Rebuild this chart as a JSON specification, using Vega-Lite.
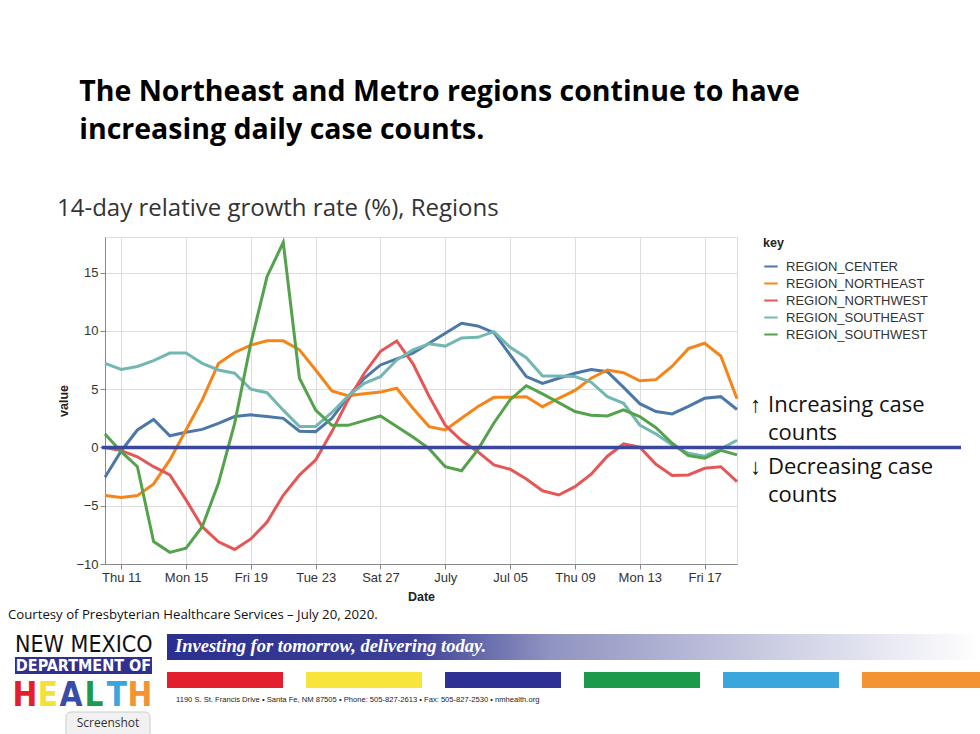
{
  "$schema": "https://vega.github.io/schema/vega-lite/v6.json",
  "width": 632,
  "height": 327,
  "autosize": {"type": "none"},
  "padding": {"left": 105, "top": 237, "right": 243, "bottom": 170},
  "background": "white",
  "title": {
    "text": ["\u200b\u00a0\u00a0\u00a0The Northeast and Metro regions continue to have", "\u200b\u00a0\u00a0\u00a0increasing daily case counts."],
    "subtitle": "14-day relative growth rate (%), Regions",
    "anchor": "start",
    "frame": "group",
    "dx": -48,
    "font": "Open Sans",
    "fontSize": 28.5,
    "fontWeight": "bold",
    "color": "#000000",
    "lineHeight": 37.5,
    "subtitleFont": "Open Sans",
    "subtitleFontSize": 24,
    "subtitleColor": "#333333",
    "subtitlePadding": 53,
    "offset": 15
  },
  "data": {"values": [
    {"date":"2020/06/10","key":"REGION_CENTER","value":-2.56},
    {"date":"2020/06/11","key":"REGION_CENTER","value":-0.3},
    {"date":"2020/06/12","key":"REGION_CENTER","value":1.5},
    {"date":"2020/06/13","key":"REGION_CENTER","value":2.4},
    {"date":"2020/06/14","key":"REGION_CENTER","value":1.0},
    {"date":"2020/06/15","key":"REGION_CENTER","value":1.3},
    {"date":"2020/06/16","key":"REGION_CENTER","value":1.55},
    {"date":"2020/06/17","key":"REGION_CENTER","value":2.07},
    {"date":"2020/06/18","key":"REGION_CENTER","value":2.65},
    {"date":"2020/06/19","key":"REGION_CENTER","value":2.8},
    {"date":"2020/06/20","key":"REGION_CENTER","value":2.65},
    {"date":"2020/06/21","key":"REGION_CENTER","value":2.5},
    {"date":"2020/06/22","key":"REGION_CENTER","value":1.4},
    {"date":"2020/06/23","key":"REGION_CENTER","value":1.36},
    {"date":"2020/06/24","key":"REGION_CENTER","value":2.5},
    {"date":"2020/06/25","key":"REGION_CENTER","value":4.36},
    {"date":"2020/06/26","key":"REGION_CENTER","value":5.94},
    {"date":"2020/06/27","key":"REGION_CENTER","value":7.08},
    {"date":"2020/06/28","key":"REGION_CENTER","value":7.6},
    {"date":"2020/06/29","key":"REGION_CENTER","value":8.1},
    {"date":"2020/06/30","key":"REGION_CENTER","value":8.94},
    {"date":"2020/07/01","key":"REGION_CENTER","value":9.8},
    {"date":"2020/07/02","key":"REGION_CENTER","value":10.66},
    {"date":"2020/07/03","key":"REGION_CENTER","value":10.43},
    {"date":"2020/07/04","key":"REGION_CENTER","value":9.85},
    {"date":"2020/07/05","key":"REGION_CENTER","value":7.94},
    {"date":"2020/07/06","key":"REGION_CENTER","value":6.08},
    {"date":"2020/07/07","key":"REGION_CENTER","value":5.5},
    {"date":"2020/07/08","key":"REGION_CENTER","value":5.94},
    {"date":"2020/07/09","key":"REGION_CENTER","value":6.37},
    {"date":"2020/07/10","key":"REGION_CENTER","value":6.68},
    {"date":"2020/07/11","key":"REGION_CENTER","value":6.5},
    {"date":"2020/07/12","key":"REGION_CENTER","value":5.15},
    {"date":"2020/07/13","key":"REGION_CENTER","value":3.76},
    {"date":"2020/07/14","key":"REGION_CENTER","value":3.08},
    {"date":"2020/07/15","key":"REGION_CENTER","value":2.88},
    {"date":"2020/07/16","key":"REGION_CENTER","value":3.53},
    {"date":"2020/07/17","key":"REGION_CENTER","value":4.22},
    {"date":"2020/07/18","key":"REGION_CENTER","value":4.36},
    {"date":"2020/07/19","key":"REGION_CENTER","value":3.26},
    {"date":"2020/06/10","key":"REGION_NORTHEAST","value":-4.13},
    {"date":"2020/06/11","key":"REGION_NORTHEAST","value":-4.3},
    {"date":"2020/06/12","key":"REGION_NORTHEAST","value":-4.13},
    {"date":"2020/06/13","key":"REGION_NORTHEAST","value":-3.13},
    {"date":"2020/06/14","key":"REGION_NORTHEAST","value":-1.07},
    {"date":"2020/06/15","key":"REGION_NORTHEAST","value":1.5},
    {"date":"2020/06/16","key":"REGION_NORTHEAST","value":4.08},
    {"date":"2020/06/17","key":"REGION_NORTHEAST","value":7.2},
    {"date":"2020/06/18","key":"REGION_NORTHEAST","value":8.15},
    {"date":"2020/06/19","key":"REGION_NORTHEAST","value":8.78},
    {"date":"2020/06/20","key":"REGION_NORTHEAST","value":9.15},
    {"date":"2020/06/21","key":"REGION_NORTHEAST","value":9.15},
    {"date":"2020/06/22","key":"REGION_NORTHEAST","value":8.38},
    {"date":"2020/06/23","key":"REGION_NORTHEAST","value":6.65},
    {"date":"2020/06/24","key":"REGION_NORTHEAST","value":4.85},
    {"date":"2020/06/25","key":"REGION_NORTHEAST","value":4.45},
    {"date":"2020/06/26","key":"REGION_NORTHEAST","value":4.6},
    {"date":"2020/06/27","key":"REGION_NORTHEAST","value":4.75},
    {"date":"2020/06/28","key":"REGION_NORTHEAST","value":5.08},
    {"date":"2020/06/29","key":"REGION_NORTHEAST","value":3.36},
    {"date":"2020/06/30","key":"REGION_NORTHEAST","value":1.79},
    {"date":"2020/07/01","key":"REGION_NORTHEAST","value":1.5},
    {"date":"2020/07/02","key":"REGION_NORTHEAST","value":2.5},
    {"date":"2020/07/03","key":"REGION_NORTHEAST","value":3.5},
    {"date":"2020/07/04","key":"REGION_NORTHEAST","value":4.3},
    {"date":"2020/07/05","key":"REGION_NORTHEAST","value":4.3},
    {"date":"2020/07/06","key":"REGION_NORTHEAST","value":4.36},
    {"date":"2020/07/07","key":"REGION_NORTHEAST","value":3.5},
    {"date":"2020/07/08","key":"REGION_NORTHEAST","value":4.22},
    {"date":"2020/07/09","key":"REGION_NORTHEAST","value":4.9},
    {"date":"2020/07/10","key":"REGION_NORTHEAST","value":5.94},
    {"date":"2020/07/11","key":"REGION_NORTHEAST","value":6.65},
    {"date":"2020/07/12","key":"REGION_NORTHEAST","value":6.42},
    {"date":"2020/07/13","key":"REGION_NORTHEAST","value":5.72},
    {"date":"2020/07/14","key":"REGION_NORTHEAST","value":5.82},
    {"date":"2020/07/15","key":"REGION_NORTHEAST","value":6.97},
    {"date":"2020/07/16","key":"REGION_NORTHEAST","value":8.48},
    {"date":"2020/07/17","key":"REGION_NORTHEAST","value":8.94},
    {"date":"2020/07/18","key":"REGION_NORTHEAST","value":7.85},
    {"date":"2020/07/19","key":"REGION_NORTHEAST","value":4.18},
    {"date":"2020/06/10","key":"REGION_NORTHWEST","value":0.0},
    {"date":"2020/06/11","key":"REGION_NORTHWEST","value":-0.27},
    {"date":"2020/06/12","key":"REGION_NORTHWEST","value":-0.8},
    {"date":"2020/06/13","key":"REGION_NORTHWEST","value":-1.65},
    {"date":"2020/06/14","key":"REGION_NORTHWEST","value":-2.36},
    {"date":"2020/06/15","key":"REGION_NORTHWEST","value":-4.5},
    {"date":"2020/06/16","key":"REGION_NORTHWEST","value":-6.8},
    {"date":"2020/06/17","key":"REGION_NORTHWEST","value":-8.1},
    {"date":"2020/06/18","key":"REGION_NORTHWEST","value":-8.75},
    {"date":"2020/06/19","key":"REGION_NORTHWEST","value":-7.85},
    {"date":"2020/06/20","key":"REGION_NORTHWEST","value":-6.4},
    {"date":"2020/06/21","key":"REGION_NORTHWEST","value":-4.1},
    {"date":"2020/06/22","key":"REGION_NORTHWEST","value":-2.36},
    {"date":"2020/06/23","key":"REGION_NORTHWEST","value":-1.07},
    {"date":"2020/06/24","key":"REGION_NORTHWEST","value":1.36},
    {"date":"2020/06/25","key":"REGION_NORTHWEST","value":4.08},
    {"date":"2020/06/26","key":"REGION_NORTHWEST","value":6.37},
    {"date":"2020/06/27","key":"REGION_NORTHWEST","value":8.25},
    {"date":"2020/06/28","key":"REGION_NORTHWEST","value":9.14},
    {"date":"2020/06/29","key":"REGION_NORTHWEST","value":7.2},
    {"date":"2020/06/30","key":"REGION_NORTHWEST","value":4.4},
    {"date":"2020/07/01","key":"REGION_NORTHWEST","value":1.9},
    {"date":"2020/07/02","key":"REGION_NORTHWEST","value":0.6},
    {"date":"2020/07/03","key":"REGION_NORTHWEST","value":-0.36},
    {"date":"2020/07/04","key":"REGION_NORTHWEST","value":-1.5},
    {"date":"2020/07/05","key":"REGION_NORTHWEST","value":-1.87},
    {"date":"2020/07/06","key":"REGION_NORTHWEST","value":-2.7},
    {"date":"2020/07/07","key":"REGION_NORTHWEST","value":-3.72},
    {"date":"2020/07/08","key":"REGION_NORTHWEST","value":-4.08},
    {"date":"2020/07/09","key":"REGION_NORTHWEST","value":-3.36},
    {"date":"2020/07/10","key":"REGION_NORTHWEST","value":-2.3},
    {"date":"2020/07/11","key":"REGION_NORTHWEST","value":-0.75},
    {"date":"2020/07/12","key":"REGION_NORTHWEST","value":0.3},
    {"date":"2020/07/13","key":"REGION_NORTHWEST","value":0.03},
    {"date":"2020/07/14","key":"REGION_NORTHWEST","value":-1.45},
    {"date":"2020/07/15","key":"REGION_NORTHWEST","value":-2.4},
    {"date":"2020/07/16","key":"REGION_NORTHWEST","value":-2.36},
    {"date":"2020/07/17","key":"REGION_NORTHWEST","value":-1.79},
    {"date":"2020/07/18","key":"REGION_NORTHWEST","value":-1.65},
    {"date":"2020/07/19","key":"REGION_NORTHWEST","value":-2.93},
    {"date":"2020/06/10","key":"REGION_SOUTHEAST","value":7.22},
    {"date":"2020/06/11","key":"REGION_SOUTHEAST","value":6.7},
    {"date":"2020/06/12","key":"REGION_SOUTHEAST","value":6.95},
    {"date":"2020/06/13","key":"REGION_SOUTHEAST","value":7.45},
    {"date":"2020/06/14","key":"REGION_SOUTHEAST","value":8.1},
    {"date":"2020/06/15","key":"REGION_SOUTHEAST","value":8.1},
    {"date":"2020/06/16","key":"REGION_SOUTHEAST","value":7.22},
    {"date":"2020/06/17","key":"REGION_SOUTHEAST","value":6.65},
    {"date":"2020/06/18","key":"REGION_SOUTHEAST","value":6.37},
    {"date":"2020/06/19","key":"REGION_SOUTHEAST","value":5.0},
    {"date":"2020/06/20","key":"REGION_SOUTHEAST","value":4.7},
    {"date":"2020/06/21","key":"REGION_SOUTHEAST","value":3.2},
    {"date":"2020/06/22","key":"REGION_SOUTHEAST","value":1.8},
    {"date":"2020/06/23","key":"REGION_SOUTHEAST","value":1.8},
    {"date":"2020/06/24","key":"REGION_SOUTHEAST","value":3.0},
    {"date":"2020/06/25","key":"REGION_SOUTHEAST","value":4.4},
    {"date":"2020/06/26","key":"REGION_SOUTHEAST","value":5.5},
    {"date":"2020/06/27","key":"REGION_SOUTHEAST","value":6.08},
    {"date":"2020/06/28","key":"REGION_SOUTHEAST","value":7.5},
    {"date":"2020/06/29","key":"REGION_SOUTHEAST","value":8.37},
    {"date":"2020/06/30","key":"REGION_SOUTHEAST","value":8.9},
    {"date":"2020/07/01","key":"REGION_SOUTHEAST","value":8.7},
    {"date":"2020/07/02","key":"REGION_SOUTHEAST","value":9.4},
    {"date":"2020/07/03","key":"REGION_SOUTHEAST","value":9.45},
    {"date":"2020/07/04","key":"REGION_SOUTHEAST","value":9.94},
    {"date":"2020/07/05","key":"REGION_SOUTHEAST","value":8.6},
    {"date":"2020/07/06","key":"REGION_SOUTHEAST","value":7.7},
    {"date":"2020/07/07","key":"REGION_SOUTHEAST","value":6.14},
    {"date":"2020/07/08","key":"REGION_SOUTHEAST","value":6.14},
    {"date":"2020/07/09","key":"REGION_SOUTHEAST","value":6.08},
    {"date":"2020/07/10","key":"REGION_SOUTHEAST","value":5.6},
    {"date":"2020/07/11","key":"REGION_SOUTHEAST","value":4.36},
    {"date":"2020/07/12","key":"REGION_SOUTHEAST","value":3.79},
    {"date":"2020/07/13","key":"REGION_SOUTHEAST","value":1.93},
    {"date":"2020/07/14","key":"REGION_SOUTHEAST","value":1.16},
    {"date":"2020/07/15","key":"REGION_SOUTHEAST","value":0.21},
    {"date":"2020/07/16","key":"REGION_SOUTHEAST","value":-0.5},
    {"date":"2020/07/17","key":"REGION_SOUTHEAST","value":-0.75},
    {"date":"2020/07/18","key":"REGION_SOUTHEAST","value":-0.12},
    {"date":"2020/07/19","key":"REGION_SOUTHEAST","value":0.62},
    {"date":"2020/06/10","key":"REGION_SOUTHWEST","value":1.16},
    {"date":"2020/06/11","key":"REGION_SOUTHWEST","value":-0.36},
    {"date":"2020/06/12","key":"REGION_SOUTHWEST","value":-1.65},
    {"date":"2020/06/13","key":"REGION_SOUTHWEST","value":-8.08},
    {"date":"2020/06/14","key":"REGION_SOUTHWEST","value":-9.0},
    {"date":"2020/06/15","key":"REGION_SOUTHWEST","value":-8.65},
    {"date":"2020/06/16","key":"REGION_SOUTHWEST","value":-6.8},
    {"date":"2020/06/17","key":"REGION_SOUTHWEST","value":-3.07},
    {"date":"2020/06/18","key":"REGION_SOUTHWEST","value":2.07},
    {"date":"2020/06/19","key":"REGION_SOUTHWEST","value":8.94},
    {"date":"2020/06/20","key":"REGION_SOUTHWEST","value":14.66},
    {"date":"2020/06/21","key":"REGION_SOUTHWEST","value":17.6},
    {"date":"2020/06/22","key":"REGION_SOUTHWEST","value":5.94},
    {"date":"2020/06/23","key":"REGION_SOUTHWEST","value":3.2},
    {"date":"2020/06/24","key":"REGION_SOUTHWEST","value":1.9},
    {"date":"2020/06/25","key":"REGION_SOUTHWEST","value":1.9},
    {"date":"2020/06/26","key":"REGION_SOUTHWEST","value":2.3},
    {"date":"2020/06/27","key":"REGION_SOUTHWEST","value":2.7},
    {"date":"2020/06/28","key":"REGION_SOUTHWEST","value":1.8},
    {"date":"2020/06/29","key":"REGION_SOUTHWEST","value":0.9},
    {"date":"2020/06/30","key":"REGION_SOUTHWEST","value":-0.1},
    {"date":"2020/07/01","key":"REGION_SOUTHWEST","value":-1.65},
    {"date":"2020/07/02","key":"REGION_SOUTHWEST","value":-2.0},
    {"date":"2020/07/03","key":"REGION_SOUTHWEST","value":-0.2},
    {"date":"2020/07/04","key":"REGION_SOUTHWEST","value":2.1},
    {"date":"2020/07/05","key":"REGION_SOUTHWEST","value":4.1},
    {"date":"2020/07/06","key":"REGION_SOUTHWEST","value":5.3},
    {"date":"2020/07/07","key":"REGION_SOUTHWEST","value":4.6},
    {"date":"2020/07/08","key":"REGION_SOUTHWEST","value":3.85},
    {"date":"2020/07/09","key":"REGION_SOUTHWEST","value":3.08},
    {"date":"2020/07/10","key":"REGION_SOUTHWEST","value":2.76},
    {"date":"2020/07/11","key":"REGION_SOUTHWEST","value":2.7},
    {"date":"2020/07/12","key":"REGION_SOUTHWEST","value":3.22},
    {"date":"2020/07/13","key":"REGION_SOUTHWEST","value":2.65},
    {"date":"2020/07/14","key":"REGION_SOUTHWEST","value":1.7},
    {"date":"2020/07/15","key":"REGION_SOUTHWEST","value":0.36},
    {"date":"2020/07/16","key":"REGION_SOUTHWEST","value":-0.7},
    {"date":"2020/07/17","key":"REGION_SOUTHWEST","value":-0.93},
    {"date":"2020/07/18","key":"REGION_SOUTHWEST","value":-0.25},
    {"date":"2020/07/19","key":"REGION_SOUTHWEST","value":-0.64}
  ]},
  "layer": [
    {
      "mark": {"type": "line", "strokeWidth": 3},
      "encoding": {
        "x": {
          "field": "date", "type": "temporal", "title": "Date",
          "scale": {"domain": [{"year": 2020, "month": 6, "date": 10}, {"year": 2020, "month": 7, "date": 19}], "nice": false},
          "axis": {
            "values": [
              {"year": 2020, "month": 6, "date": 11}, {"year": 2020, "month": 6, "date": 13},
              {"year": 2020, "month": 6, "date": 15}, {"year": 2020, "month": 6, "date": 17},
              {"year": 2020, "month": 6, "date": 19}, {"year": 2020, "month": 6, "date": 21},
              {"year": 2020, "month": 6, "date": 23}, {"year": 2020, "month": 6, "date": 25},
              {"year": 2020, "month": 6, "date": 27}, {"year": 2020, "month": 6, "date": 29},
              {"year": 2020, "month": 7, "date": 1}, {"year": 2020, "month": 7, "date": 3},
              {"year": 2020, "month": 7, "date": 5}, {"year": 2020, "month": 7, "date": 7},
              {"year": 2020, "month": 7, "date": 9}, {"year": 2020, "month": 7, "date": 11},
              {"year": 2020, "month": 7, "date": 13}, {"year": 2020, "month": 7, "date": 15},
              {"year": 2020, "month": 7, "date": 17}, {"year": 2020, "month": 7, "date": 19}
            ],
            "labelExpr": "(round((datum.value - datetime(2020,5,11)) / 86400000) % 4 == 0) ? (date(datum.value) == 1 ? timeFormat(datum.value, '%B') : (day(datum.value) == 0 ? timeFormat(datum.value, '%b %d') : timeFormat(datum.value, '%a %d'))) : ''",
            "labelOverlap": false,
            "titlePadding": 6
          }
        },
        "y": {
          "field": "value", "type": "quantitative", "title": "value",
          "scale": {"domain": [-10, 18.06], "nice": false, "zero": false},
          "axis": {"values": [-10, -5, 0, 5, 10, 15], "titlePadding": 5}
        },
        "color": {"field": "key", "type": "nominal", "title": "key"}
      }
    },
    {
      "data": {"values": [{}]},
      "mark": {"type": "rule", "color": "#3A479C", "strokeWidth": 3.5},
      "encoding": {
        "x": {"datum": {"year": 2020, "month": 6, "date": 9, "hours": 19, "minutes": 7}, "type": "temporal"},
        "x2": {"datum": {"year": 2020, "month": 8, "date": 1, "hours": 19, "minutes": 45}},
        "y": {"datum": 0, "type": "quantitative"}
      }
    },
    {
      "data": {"values": [{}]},
      "mark": {"type": "text", "text": "↑", "align": "left", "baseline": "alphabetic", "font": "Open Sans", "fontSize": 22, "color": "#111111"},
      "encoding": {
        "x": {"datum": {"year": 2020, "month": 7, "date": 19, "hours": 19, "minutes": 15}, "type": "temporal"},
        "y": {"datum": 3.04, "type": "quantitative"}
      }
    },
    {
      "data": {"values": [{}]},
      "mark": {"type": "text", "text": "↓", "align": "left", "baseline": "alphabetic", "font": "Open Sans", "fontSize": 22, "color": "#111111"},
      "encoding": {
        "x": {"datum": {"year": 2020, "month": 7, "date": 19, "hours": 19, "minutes": 15}, "type": "temporal"},
        "y": {"datum": -2.28, "type": "quantitative"}
      }
    },
    {
      "data": {"values": [{}]},
      "mark": {"type": "text", "text": "Increasing case\ncounts", "lineBreak": "\n", "lineHeight": 28, "align": "left", "baseline": "alphabetic", "font": "Open Sans", "fontSize": 22, "color": "#111111"},
      "encoding": {
        "x": {"datum": {"year": 2020, "month": 7, "date": 20, "hours": 21, "minutes": 55}, "type": "temporal"},
        "y": {"datum": 3.04, "type": "quantitative"}
      }
    },
    {
      "data": {"values": [{}]},
      "mark": {"type": "text", "text": "Decreasing case\ncounts", "lineBreak": "\n", "lineHeight": 28, "align": "left", "baseline": "alphabetic", "font": "Open Sans", "fontSize": 22, "color": "#111111"},
      "encoding": {
        "x": {"datum": {"year": 2020, "month": 7, "date": 20, "hours": 21, "minutes": 55}, "type": "temporal"},
        "y": {"datum": -2.28, "type": "quantitative"}
      }
    },
    {
      "data": {"values": [{}]},
      "mark": {"type": "text", "text": "Courtesy of Presbyterian Healthcare Services – July 20, 2020.", "align": "left", "baseline": "alphabetic", "font": "Open Sans", "fontSize": 13.2, "color": "#111111"},
      "encoding": {
        "x": {"datum": {"year": 2020, "month": 6, "date": 4, "hours": 0, "minutes": 20}, "type": "temporal"},
        "y": {"datum": -14.72, "type": "quantitative"}
      }
    },
    {
      "data": {"values": [{}]},
      "mark": {"type": "text", "text": "NEW MEXICO", "align": "left", "baseline": "alphabetic", "font": "Liberation Sans Narrow, DejaVu Sans Condensed, Liberation Sans", "fontSize": 23, "color": "#111111"},
      "encoding": {
        "x": {"datum": {"year": 2020, "month": 6, "date": 4, "hours": 10, "minutes": 42}, "type": "temporal"},
        "y": {"datum": -17.55, "type": "quantitative"}
      }
    },
    {
      "data": {"values": [{}]},
      "mark": {"type": "rect", "color": "#2E3192"},
      "encoding": {
        "x": {"datum": {"year": 2020, "month": 6, "date": 4, "hours": 10, "minutes": 42}, "type": "temporal"},
        "x2": {"datum": {"year": 2020, "month": 6, "date": 12, "hours": 21, "minutes": 36}},
        "y": {"datum": -17.98, "type": "quantitative"},
        "y2": {"datum": -19.44}
      }
    },
    {
      "data": {"values": [{}]},
      "mark": {"type": "text", "text": "DEPARTMENT OF", "align": "center", "baseline": "alphabetic", "font": "Liberation Sans Narrow, DejaVu Sans Condensed, Liberation Sans", "fontWeight": "bold", "fontSize": 16, "color": "#ffffff"},
      "encoding": {
        "x": {"datum": {"year": 2020, "month": 6, "date": 8, "hours": 16, "minutes": 10}, "type": "temporal"},
        "y": {"datum": -19.18, "type": "quantitative"}
      }
    },
    {
      "data": {"values": [{}]},
      "mark": {"type": "text", "text": "H", "align": "center", "baseline": "alphabetic", "font": "Liberation Sans Narrow, DejaVu Sans Condensed, Liberation Sans", "fontWeight": "bold", "fontSize": 33, "color": "#E31E2D"},
      "encoding": {
        "x": {"datum": {"year": 2020, "month": 6, "date": 5, "hours": 1, "minutes": 30}, "type": "temporal"},
        "y": {"datum": -22.2, "type": "quantitative"}
      }
    },
    {
      "data": {"values": [{}]},
      "mark": {"type": "text", "text": "E", "align": "center", "baseline": "alphabetic", "font": "Liberation Sans Narrow, DejaVu Sans Condensed, Liberation Sans", "fontWeight": "bold", "fontSize": 33, "color": "#F5E03A"},
      "encoding": {
        "x": {"datum": {"year": 2020, "month": 6, "date": 6, "hours": 11, "minutes": 35}, "type": "temporal"},
        "y": {"datum": -22.2, "type": "quantitative"}
      }
    },
    {
      "data": {"values": [{}]},
      "mark": {"type": "text", "text": "A", "align": "center", "baseline": "alphabetic", "font": "Liberation Sans Narrow, DejaVu Sans Condensed, Liberation Sans", "fontWeight": "bold", "fontSize": 33, "color": "#3B4BA8"},
      "encoding": {
        "x": {"datum": {"year": 2020, "month": 6, "date": 7, "hours": 21, "minutes": 39}, "type": "temporal"},
        "y": {"datum": -22.2, "type": "quantitative"}
      }
    },
    {
      "data": {"values": [{}]},
      "mark": {"type": "text", "text": "L", "align": "center", "baseline": "alphabetic", "font": "Liberation Sans Narrow, DejaVu Sans Condensed, Liberation Sans", "fontWeight": "bold", "fontSize": 33, "color": "#1E9A4B"},
      "encoding": {
        "x": {"datum": {"year": 2020, "month": 6, "date": 9, "hours": 7, "minutes": 42}, "type": "temporal"},
        "y": {"datum": -22.2, "type": "quantitative"}
      }
    },
    {
      "data": {"values": [{}]},
      "mark": {"type": "text", "text": "T", "align": "center", "baseline": "alphabetic", "font": "Liberation Sans Narrow, DejaVu Sans Condensed, Liberation Sans", "fontWeight": "bold", "fontSize": 33, "color": "#39A6DC"},
      "encoding": {
        "x": {"datum": {"year": 2020, "month": 6, "date": 10, "hours": 17, "minutes": 46}, "type": "temporal"},
        "y": {"datum": -22.2, "type": "quantitative"}
      }
    },
    {
      "data": {"values": [{}]},
      "mark": {"type": "text", "text": "H", "align": "center", "baseline": "alphabetic", "font": "Liberation Sans Narrow, DejaVu Sans Condensed, Liberation Sans", "fontWeight": "bold", "fontSize": 33, "color": "#F39332"},
      "encoding": {
        "x": {"datum": {"year": 2020, "month": 6, "date": 12, "hours": 3, "minutes": 50}, "type": "temporal"},
        "y": {"datum": -22.2, "type": "quantitative"}
      }
    },
    {
      "data": {"values": [{}]},
      "mark": {"type": "rect", "color": {"gradient": "linear", "stops": [
        {"offset": 0, "color": "#2B2F8F"},
        {"offset": 0.3, "color": "#3C4097"},
        {"offset": 0.47, "color": "#8F93C0"},
        {"offset": 0.73, "color": "#C8CAE1"},
        {"offset": 1, "color": "#FFFFFF"}
      ]}},
      "encoding": {
        "x": {"datum": {"year": 2020, "month": 6, "date": 13, "hours": 19, "minutes": 50}, "type": "temporal"},
        "x2": {"datum": {"year": 2020, "month": 8, "date": 3, "hours": 0, "minutes": 0}},
        "y": {"datum": -16.01, "type": "quantitative"},
        "y2": {"datum": -18.24}
      }
    },
    {
      "data": {"values": [{}]},
      "mark": {"type": "text", "text": "Investing for tomorrow, delivering today.", "align": "left", "baseline": "alphabetic", "font": "Liberation Serif", "fontStyle": "italic", "fontWeight": "bold", "fontSize": 18.5, "color": "#ffffff"},
      "encoding": {
        "x": {"datum": {"year": 2020, "month": 6, "date": 14, "hours": 7, "minutes": 41}, "type": "temporal"},
        "y": {"datum": -17.55, "type": "quantitative"}
      }
    },
    {
      "data": {"values": [{}]},
      "mark": {"type": "rect", "color": "#E31E2D"},
      "encoding": {
        "x": {"datum": {"year": 2020, "month": 6, "date": 13, "hours": 19, "minutes": 50}, "type": "temporal"},
        "x2": {"datum": {"year": 2020, "month": 6, "date": 20, "hours": 23, "minutes": 37}},
        "y": {"datum": -19.27, "type": "quantitative"},
        "y2": {"datum": -20.64}
      }
    },
    {
      "data": {"values": [{}]},
      "mark": {"type": "rect", "color": "#F8E53C"},
      "encoding": {
        "x": {"datum": {"year": 2020, "month": 6, "date": 22, "hours": 9, "minutes": 42}, "type": "temporal"},
        "x2": {"datum": {"year": 2020, "month": 6, "date": 29, "hours": 13, "minutes": 29}},
        "y": {"datum": -19.27, "type": "quantitative"},
        "y2": {"datum": -20.64}
      }
    },
    {
      "data": {"values": [{}]},
      "mark": {"type": "rect", "color": "#2E3192"},
      "encoding": {
        "x": {"datum": {"year": 2020, "month": 6, "date": 30, "hours": 23, "minutes": 33}, "type": "temporal"},
        "x2": {"datum": {"year": 2020, "month": 7, "date": 8, "hours": 3, "minutes": 20}},
        "y": {"datum": -19.27, "type": "quantitative"},
        "y2": {"datum": -20.64}
      }
    },
    {
      "data": {"values": [{}]},
      "mark": {"type": "rect", "color": "#1B9A4C"},
      "encoding": {
        "x": {"datum": {"year": 2020, "month": 7, "date": 9, "hours": 13, "minutes": 25}, "type": "temporal"},
        "x2": {"datum": {"year": 2020, "month": 7, "date": 16, "hours": 17, "minutes": 12}},
        "y": {"datum": -19.27, "type": "quantitative"},
        "y2": {"datum": -20.64}
      }
    },
    {
      "data": {"values": [{}]},
      "mark": {"type": "rect", "color": "#3AA6DC"},
      "encoding": {
        "x": {"datum": {"year": 2020, "month": 7, "date": 18, "hours": 3, "minutes": 16}, "type": "temporal"},
        "x2": {"datum": {"year": 2020, "month": 7, "date": 25, "hours": 7, "minutes": 3}},
        "y": {"datum": -19.27, "type": "quantitative"},
        "y2": {"datum": -20.64}
      }
    },
    {
      "data": {"values": [{}]},
      "mark": {"type": "rect", "color": "#F39332"},
      "encoding": {
        "x": {"datum": {"year": 2020, "month": 7, "date": 26, "hours": 17, "minutes": 8}, "type": "temporal"},
        "x2": {"datum": {"year": 2020, "month": 8, "date": 3, "hours": 0, "minutes": 0}},
        "y": {"datum": -19.27, "type": "quantitative"},
        "y2": {"datum": -20.64}
      }
    },
    {
      "data": {"values": [{}]},
      "mark": {"type": "text", "text": "1190 S. St. Francis Drive  •  Santa Fe, NM 87505  •  Phone: 505-827-2613  •  Fax: 505-827-2530  •  nmhealth.org", "align": "left", "baseline": "alphabetic", "font": "Liberation Sans Narrow, Liberation Sans", "fontSize": 7.6, "color": "#222222"},
      "encoding": {
        "x": {"datum": {"year": 2020, "month": 6, "date": 14, "hours": 9, "minutes": 9}, "type": "temporal"},
        "y": {"datum": -21.84, "type": "quantitative"}
      }
    },
    {
      "data": {"values": [{}]},
      "mark": {"type": "rect", "color": "#F1F1F1", "stroke": "#CCCCCC", "strokeWidth": 1, "cornerRadius": 5},
      "encoding": {
        "x": {"datum": {"year": 2020, "month": 6, "date": 7, "hours": 14, "minutes": 14}, "type": "temporal"},
        "x2": {"datum": {"year": 2020, "month": 6, "date": 12, "hours": 18, "minutes": 39}},
        "y": {"datum": -22.7, "type": "quantitative"},
        "y2": {"datum": -25.1}
      }
    },
    {
      "data": {"values": [{}]},
      "mark": {"type": "text", "text": "Screenshot", "align": "center", "baseline": "alphabetic", "font": "Open Sans", "fontSize": 12, "color": "#333333"},
      "encoding": {
        "x": {"datum": {"year": 2020, "month": 6, "date": 10, "hours": 4, "minutes": 27}, "type": "temporal"},
        "y": {"datum": -23.99, "type": "quantitative"}
      }
    }
  ],
  "config": {
    "font": "Liberation Sans",
    "view": {"stroke": "#dddddd"},
    "axis": {
      "labelFontSize": 13,
      "labelColor": "#333333",
      "titleFontSize": 12.5,
      "titleFontWeight": "bold",
      "titleColor": "#222222",
      "gridColor": "#dddddd",
      "domainColor": "#888888",
      "tickColor": "#888888"
    },
    "legend": {
      "orient": "right",
      "offset": 20,
      "padding": 0,
      "titleFontSize": 12.5,
      "titleFontWeight": "bold",
      "titleColor": "#222222",
      "labelFontSize": 13,
      "labelColor": "#333333",
      "symbolType": "stroke",
      "symbolStrokeWidth": 2,
      "symbolSize": 180,
      "rowPadding": 2,
      "titlePadding": 9,
      "labelOffset": 7
    }
  }
}
